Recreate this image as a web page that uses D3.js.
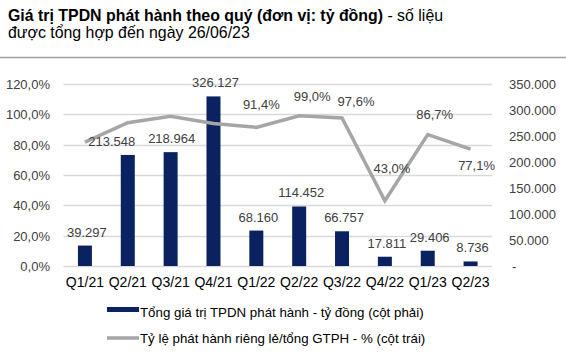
<!DOCTYPE html>
<html><head><meta charset="utf-8">
<script src="https://cdn.jsdelivr.net/npm/d3@7"></script>
<style>
body{margin:0;background:#fff;}
svg{display:block;font-family:"Liberation Sans",Arial,sans-serif;}
</style></head>
<body>
<svg id="c" width="566" height="356"></svg>
<script>
const categories = ["Q1/21","Q2/21","Q3/21","Q4/21","Q1/22","Q2/22","Q3/22","Q4/22","Q1/23","Q2/23"];
const issuance = [39297,213548,218964,326127,68160,114452,66757,17811,29406,8736];
const privateRatio = [81.7,94.5,98.7,93.9,91.4,99.0,97.6,43.0,86.7,77.1];
const ratioLabelShown = [false,false,false,false,true,true,true,true,true,true];
const leftTicks = [0,20,40,60,80,100,120];
const rightTicks = [0,50000,100000,150000,200000,250000,300000,350000];
const legendLabels = ["Tổng giá trị TPDN phát hành - tỷ đồng (cột phải)","Tỷ lệ phát hành riêng lẻ/tổng GTPH - % (cột trái)"];

// label nudges (layout only): [dx, dy]
const barLabelNudge = [[2,0],[-16,0],[1,0],[2,0],[2,0],[2,0],[2,0],[2,0],[2,0],[2,0]];
const lineLabelNudge = [[0,0],[0,0],[0,0],[0,0],[5,-18],[13,-15],[14,-12],[7,-28],[7,-16],[6,21]];

const svg = d3.select("#c");
const fmtNum = v => d3.format(",")(v).replace(/,/g,".");
const fmtPct = v => v.toFixed(1).replace(".",",") + "%";

// Title
const t = svg.append("text").attr("x",8).attr("y",21).attr("font-size",15.9).attr("fill","#000");
t.append("tspan").attr("font-weight","bold").text("Giá trị TPDN phát hành theo quý (đơn vị: tỷ đồng)");
t.append("tspan").text(" - số liệu");
svg.append("text").attr("x",8).attr("y",37.5).attr("font-size",15.9).attr("fill","#000").text("được tổng hợp đến ngày 26/06/23");
svg.append("line").attr("x1",0).attr("x2",566).attr("y1",57.5).attr("y2",57.5).attr("stroke","#a0a0a0").attr("stroke-width",1.5);

const L = 63.5, R = 492, T = 84, B = 266;
const x = d3.scaleBand().domain(categories).range([L,R]).paddingInner(0).paddingOuter(0);
const yL = d3.scaleLinear().domain([0,120]).range([B,T]);
const yR = d3.scaleLinear().domain([0,350000]).range([B,T]);
const cx = c => x(c) + x.bandwidth()/2;

// gridlines
svg.append("g").selectAll("line").data(leftTicks).join("line")
  .attr("x1",L).attr("x2",R).attr("y1",d=>Math.round(yL(d))+0.5).attr("y2",d=>Math.round(yL(d))+0.5)
  .attr("stroke","#d9d9d9").attr("stroke-width",1.3);

// left axis
const axL = d3.axisLeft(yL).tickValues(leftTicks).tickSize(0).tickPadding(0).tickFormat(d=>d.toFixed(1).replace(".",",")+"%");
const gL = svg.append("g").attr("transform",`translate(50,0)`).call(axL);
gL.select(".domain").remove();
gL.selectAll("text").attr("font-size",13).attr("fill","#404040").attr("font-family","'Liberation Sans',Arial,sans-serif").attr("dy","0.35em");

// right axis
const axR = d3.axisRight(yR).tickValues(rightTicks).tickSize(0).tickPadding(0).tickFormat(d=> d===0 ? "-" : fmtNum(d));
const gR = svg.append("g").attr("transform",`translate(509,0)`).call(axR);
gR.select(".domain").remove();
gR.selectAll("text").attr("font-size",13).attr("fill","#404040").attr("font-family","'Liberation Sans',Arial,sans-serif").attr("dy","0.35em")
  .attr("dx", d=> d===0 ? 3 : 0);

// x axis labels
const axX = d3.axisBottom(x).tickSize(0).tickPadding(0);
const gX = svg.append("g").attr("transform",`translate(0,${B+10})`).call(axX);
gX.select(".domain").remove();
gX.selectAll("text").attr("font-size",14).attr("fill","#000").attr("font-family","'Liberation Sans',Arial,sans-serif").attr("dy","0.75em");

// bars
const bw = 14;
svg.append("g").selectAll("rect").data(issuance).join("rect")
  .attr("x",(d,i)=>cx(categories[i])-bw/2).attr("width",bw)
  .attr("y",d=>yR(d)).attr("height",d=>B-yR(d)).attr("fill","#0a2360");

// line
const line = d3.line().x((d,i)=>cx(categories[i])).y(d=>yL(d));
svg.append("path").datum(privateRatio).attr("d",line).attr("fill","none")
  .attr("stroke","#a6a6a6").attr("stroke-width",3.5).attr("stroke-linejoin","miter");

// bar labels
svg.append("g").selectAll("text").data(issuance).join("text")
  .attr("x",(d,i)=>cx(categories[i])+barLabelNudge[i][0])
  .attr("y",(d,i)=>yR(d)-9+barLabelNudge[i][1])
  .attr("text-anchor","middle").attr("font-size",13).attr("fill","#404040")
  .text(d=>fmtNum(d));

// line labels
const ratioIdx = privateRatio.map((v,i)=>i).filter(i=>ratioLabelShown[i]);
svg.append("g").selectAll("text").data(ratioIdx).join("text")
  .attr("x",i=>cx(categories[i])+lineLabelNudge[i][0])
  .attr("y",i=>yL(privateRatio[i])+lineLabelNudge[i][1])
  .attr("text-anchor","middle").attr("font-size",13).attr("fill","#404040")
  .text(i=>fmtPct(privateRatio[i]));

// legend
const lg = svg.append("g");
lg.append("rect").attr("x",107).attr("y",307).attr("width",32).attr("height",5).attr("fill","#0a2360");
lg.append("text").attr("x",140).attr("y",317).attr("font-size",13.3).attr("fill","#000").text(legendLabels[0]);
lg.append("line").attr("x1",107).attr("x2",139).attr("y1",338).attr("y2",338).attr("stroke","#a6a6a6").attr("stroke-width",3.5);
lg.append("text").attr("x",140).attr("y",342.5).attr("font-size",13.3).attr("fill","#000").text(legendLabels[1]);
</script>
</body></html>
